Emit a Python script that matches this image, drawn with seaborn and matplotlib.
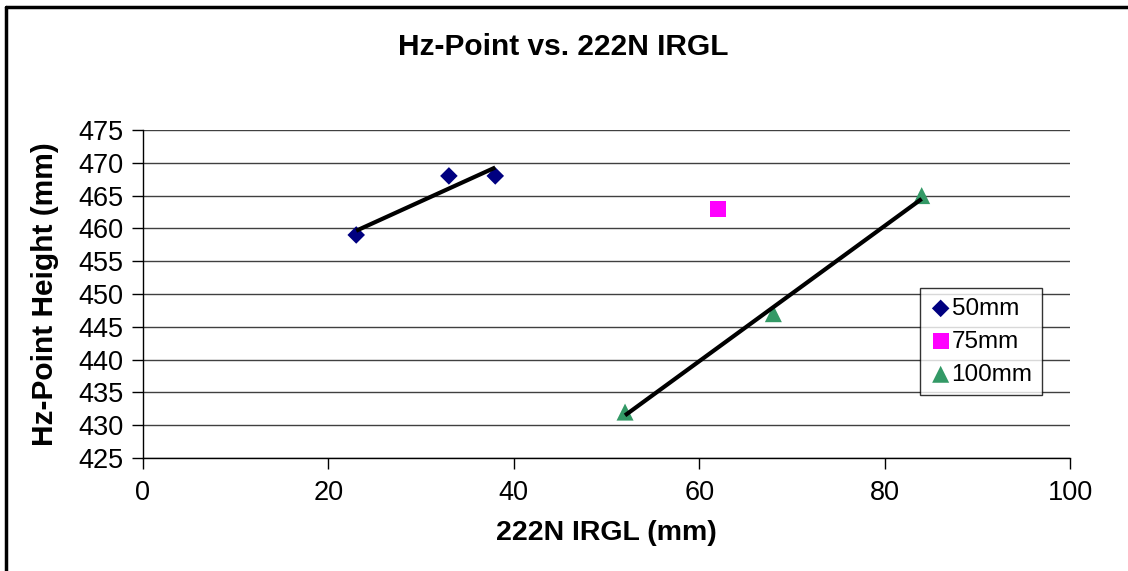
import numpy as np
import pandas as pd
import matplotlib
matplotlib.use("Agg")
import matplotlib.pyplot as plt
import seaborn as sns

series_names = ["50mm", "75mm", "100mm"]
x_50 = [23, 33, 38]
y_50 = [459, 468, 468]
x_75 = [62]
y_75 = [463]
x_100 = [52, 68, 84]
y_100 = [432, 447, 465]

df = pd.DataFrame({
    "x": x_50 + x_75 + x_100,
    "y": y_50 + y_75 + y_100,
    "s": ["50mm"] * 3 + ["75mm"] + ["100mm"] * 3,
})

sns.set_theme(style="white")
plt.rcParams['font.family'] = ['Liberation Sans', 'DejaVu Sans']
plt.rcParams['text.color'] = 'black'
plt.rcParams['axes.labelcolor'] = 'black'

fig = plt.figure(figsize=(11.28, 5.71), dpi=100)
ax = fig.add_axes([143/1128, 1 - 458/571, (1070-143)/1128, (458-130)/571])

palette = {"50mm": "#000080", "75mm": "#FF00FF", "100mm": "#339966"}
markers = {"50mm": "D", "75mm": "s", "100mm": "^"}
sizes_map = {"50mm": 80, "75mm": 130, "100mm": 150}
for name in series_names:
    sub = df[df.s == name]
    sns.scatterplot(data=sub, x="x", y="y", color=palette[name], marker=markers[name],
                    s=sizes_map[name], edgecolor="none", ax=ax, label=name, zorder=3)

for xs, ys in [(x_50, y_50), (x_100, y_100)]:
    m, b = np.polyfit(xs, ys, 1)
    xx = np.array([min(xs), max(xs)])
    ax.plot(xx, m * xx + b, color="black", lw=3, zorder=4, solid_capstyle="butt")

ax.set_xlim(0, 100)
ax.set_ylim(425, 475)
ax.set_xticks(range(0, 101, 20))
ax.set_yticks(range(425, 476, 5))
ax.grid(axis="y", color="#404040", lw=1)
ax.set_axisbelow(True)
for sp in ["top", "right"]:
    ax.spines[sp].set_visible(False)
for sp in ["left", "bottom"]:
    ax.spines[sp].set_color("black")
    ax.spines[sp].set_linewidth(1)
ax.tick_params(axis="both", direction="out", length=8, width=1, color="black",
               labelsize=19.5, labelcolor="black", left=True, bottom=True)
ax.tick_params(axis="x", pad=8)
ax.tick_params(axis="y", pad=6)

ax.set_xlabel("222N IRGL (mm)", fontsize=20.5, fontweight="bold", labelpad=10)
ax.set_ylabel("Hz-Point Height (mm)", fontsize=21.5, fontweight="bold", labelpad=14)
fig.text(563/1128, 1 - 47/571, "Hz-Point vs. 222N IRGL", fontsize=21.5, fontweight="bold",
         ha="center", va="center")

leg = ax.legend(loc="upper left", bbox_to_anchor=((920-143)/927, (458-288)/328),
                frameon=True, fancybox=False, edgecolor="black", fontsize=17.5,
                handletextpad=0.0, borderpad=0.4, labelspacing=0.45, borderaxespad=0,
                handlelength=0.9)
leg.get_frame().set_linewidth(1)

# outer chart border
fig.add_artist(plt.Line2D([6/1128, 6/1128], [0, 1 - 7/571], color="black", lw=2.5,
                          transform=fig.transFigure))
fig.add_artist(plt.Line2D([6/1128, 1], [1 - 7/571, 1 - 7/571], color="black", lw=2.5,
                          transform=fig.transFigure))

fig.savefig("out.png", dpi=100, facecolor="white")
